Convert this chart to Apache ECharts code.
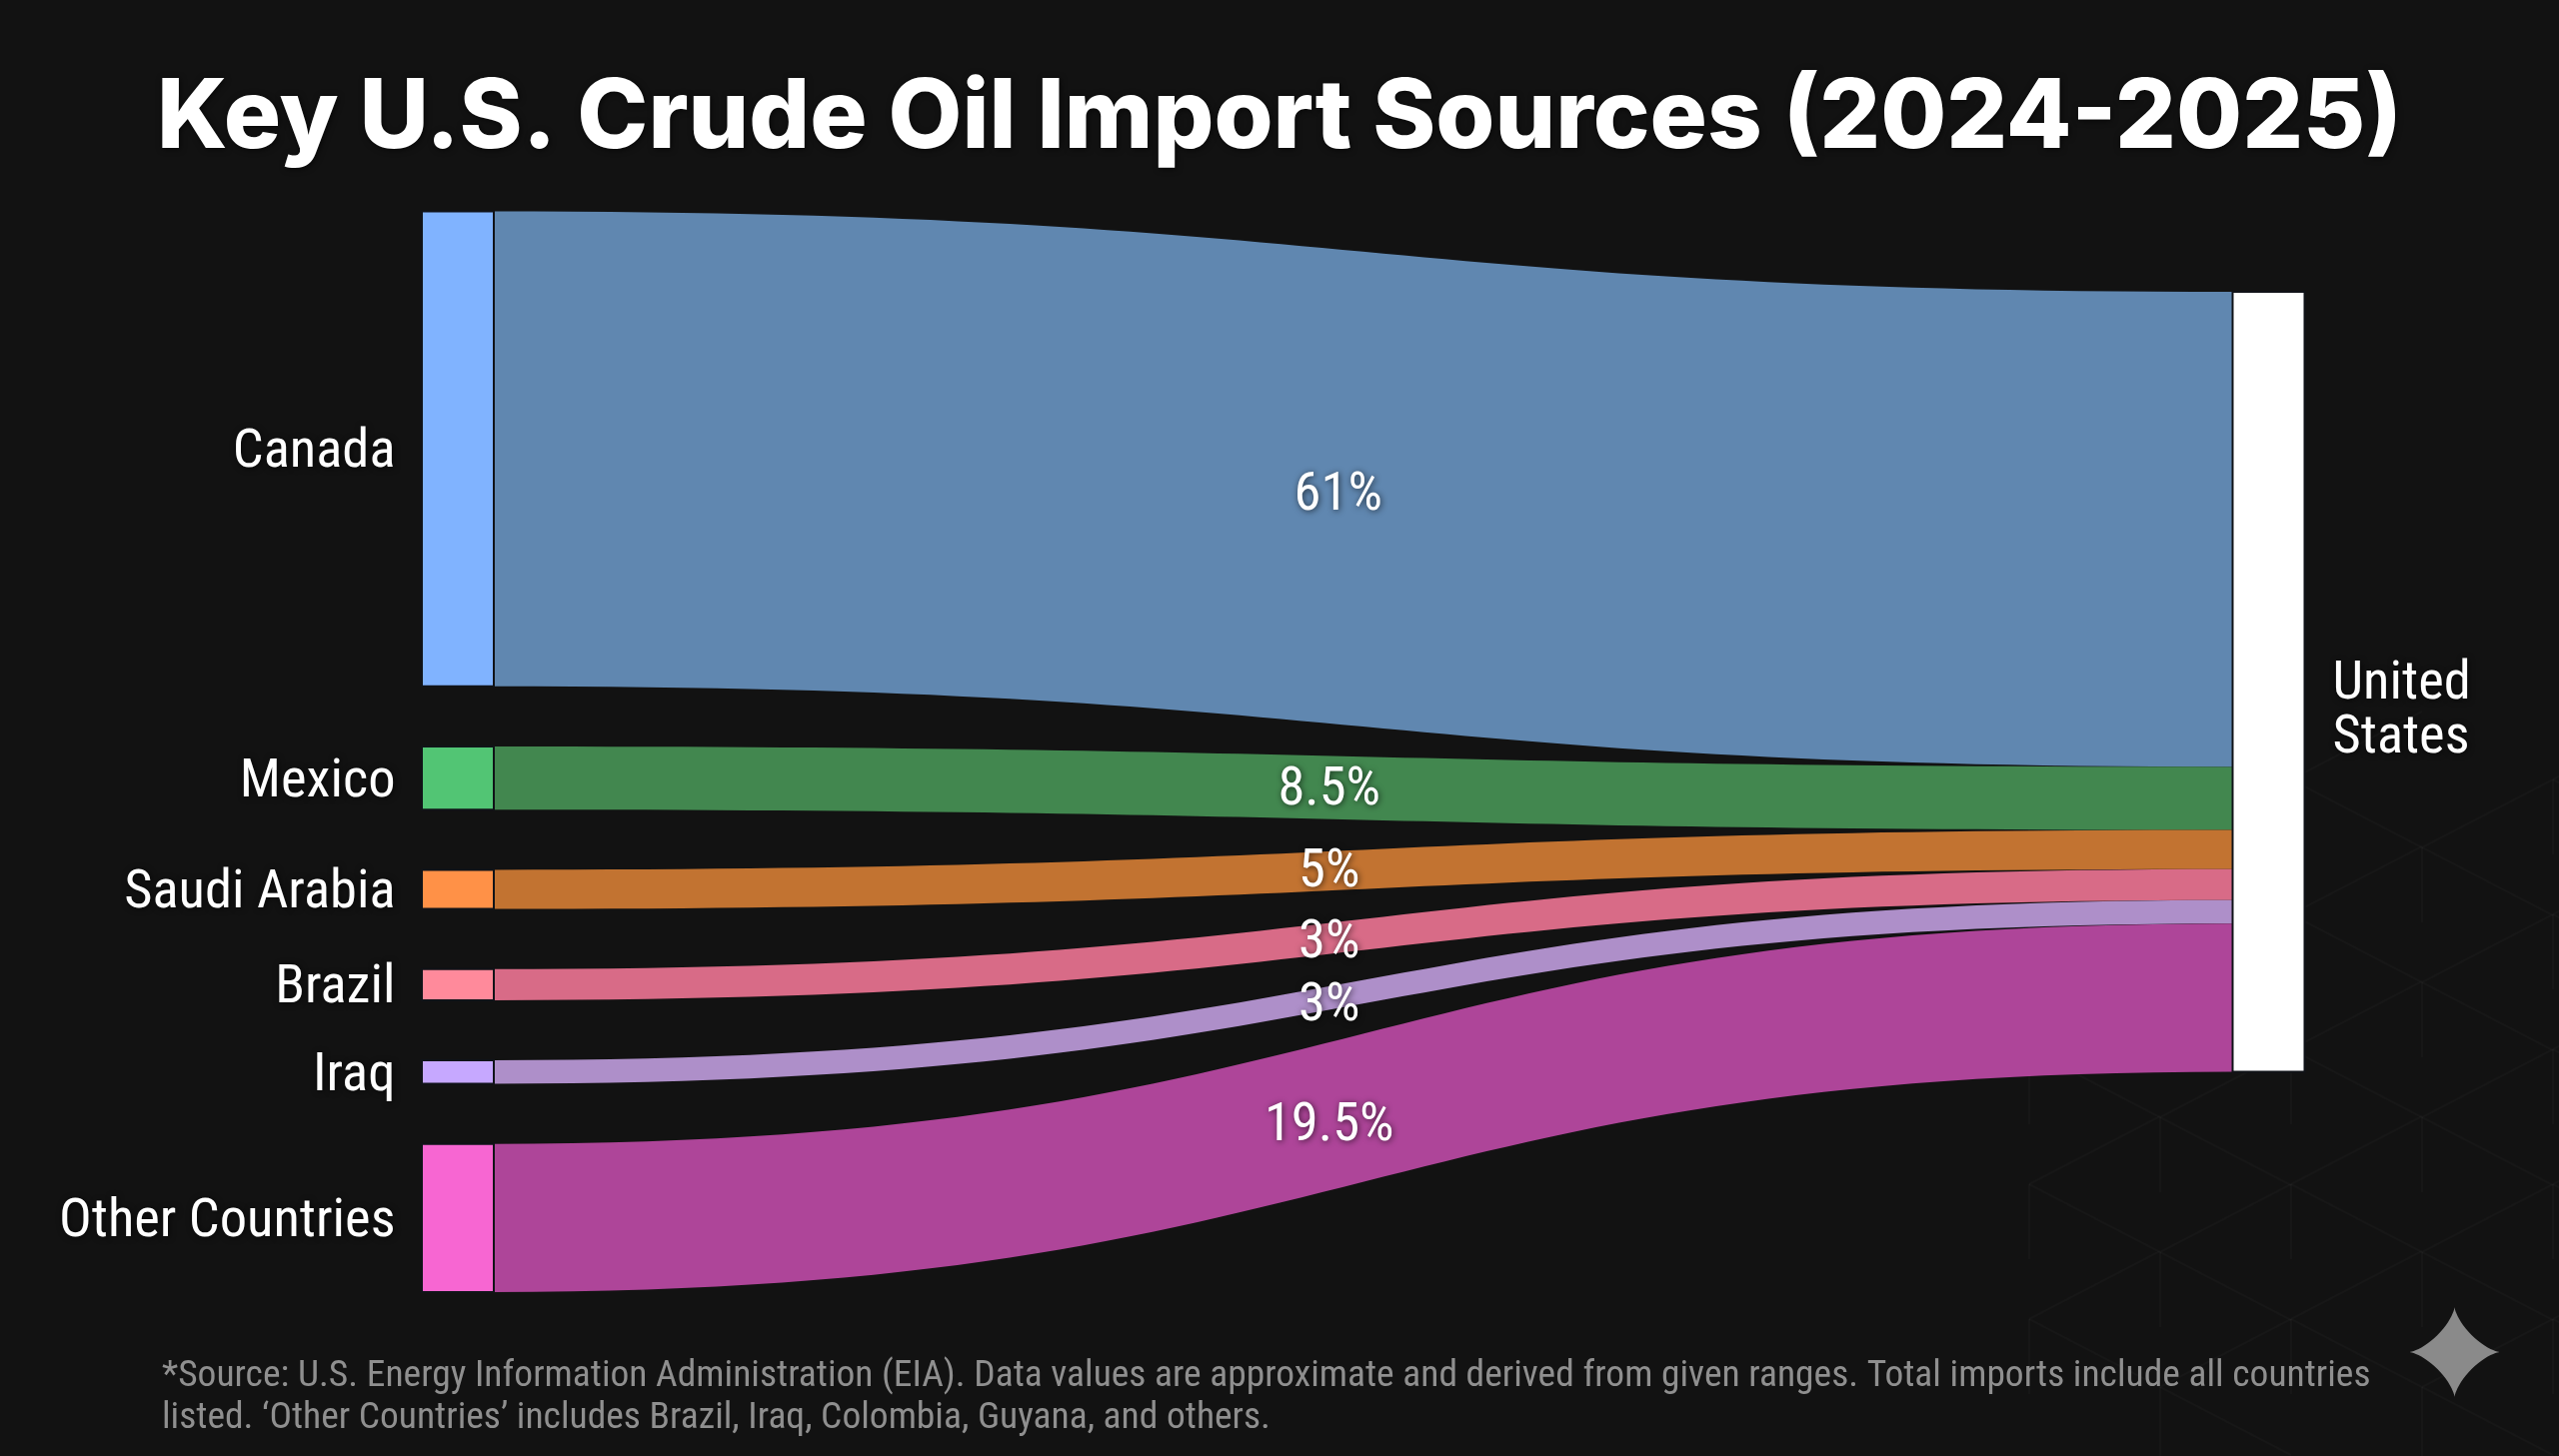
<!DOCTYPE html>
<html><head><meta charset="utf-8">
<style>html,body{margin:0;padding:0;background:#121212}#c{width:2560px;height:1457px}</style>
<script src="https://cdn.jsdelivr.net/npm/echarts@6/dist/echarts.min.js"></script>
</head><body><div id="c"></div>
<script>
const titleText = 'Key U.S. Crude Oil Import Sources (2024-2025)';
const footnoteText = '*Source: U.S. Energy Information Administration (EIA). Data values are approximate and derived from given ranges. Total imports include all countries\nlisted. ‘Other Countries’ includes Brazil, Iraq, Colombia, Guyana, and others.';
const countries = ['Canada','Mexico','Saudi Arabia','Brazil','Iraq','Other Countries'];
const destination = 'United States';
const flowValues = [60.9, 8.1, 5, 4, 3, 19];
const flowLabels = ['61%','8.5%','5%','3%','3%','19.5%'];
const nodeColors = ['#80B3FF','#52C574','#FF9147','#FF8A9B','#C6A8FF','#F766D2'];
const linkColors = ['#6087B0','#42874F','#C27331','#D86B87','#AE8FC9','#AE4599'];
const labelFont = '"Roboto Condensed","Liberation Sans Narrow","DejaVu Sans Condensed",sans-serif';
const FS = 54.5;
const labelNudges = [[-25,7],[-34,3],[-34,3],[-34,9],[-34,15],[-34,19]];

const chart = echarts.init(document.getElementById('c'), null, {renderer:'canvas'});
const shadow = {textShadowColor:'rgba(0,0,0,0.65)', textShadowBlur:6, textShadowOffsetX:1, textShadowOffsetY:1};

// faint isometric lattice behind the chart
const lattice = [];
const latColor = 'rgba(255,255,255,0.022)';
for (let c = 0; c < 6; c++) {
  const x = 1900 + 131 * c + 130;
  const yStart = 780 + (c % 2) * 68;
  for (let r = 0; r < 5; r++) {
    const y = yStart + r * 135;
    lattice.push({type:'line', silent:true, shape:{x1:x,y1:y,x2:x,y2:y+75}, style:{stroke:latColor,lineWidth:2}});
    lattice.push({type:'line', silent:true, shape:{x1:x,y1:y,x2:x+131,y2:y-68}, style:{stroke:latColor,lineWidth:2}});
    lattice.push({type:'line', silent:true, shape:{x1:x,y1:y,x2:x+131,y2:y+68}, style:{stroke:latColor,lineWidth:2}});
  }
}
// four-pointed sparkle watermark
const sparkle = [];
for (let k = 0; k < 96; k++) {
  const t = k / 96 * Math.PI * 2, p = 2.8, c = Math.cos(t), s = Math.sin(t);
  sparkle.push([2455.5 + 45 * Math.sign(c) * Math.pow(Math.abs(c), p), 1353 + 45 * Math.sign(s) * Math.pow(Math.abs(s), p)]);
}

chart.setOption({
  backgroundColor:'#121212',
  animation:false,
  tooltip:{show:false},
  title:[{
    text:titleText, left:'center', top:66,
    textStyle:{color:'#fff', fontFamily:'Inter', fontWeight:800, fontSize:95.6, ...shadow}
  }],
  graphic:[
    ...lattice,
    {type:'text', silent:true, x:162, y:1357, style:{text:footnoteText, fill:'#8f8f8f', font:'37.5px '+labelFont, lineHeight:42}},
    {type:'polygon', silent:true, shape:{points:sparkle}, style:{fill:'#8a8a8a'}}
  ],
  series:[{
    type:'sankey',
    left:422, right:254.5, top:211.5, bottom:164,
    nodeWidth:72, nodeGap:60.2,
    nodeAlign:'justify',
    layoutIterations:0,
    draggable:false,
    emphasis:{disabled:true},
    label:{show:true, position:'left', distance:25.5, color:'#fff', fontFamily:labelFont, fontSize:FS, offset:[0,4.5], ...shadow},
    edgeLabel:{show:true, color:'#fff', fontFamily:labelFont, fontSize:FS, ...shadow},
    data:[
      ...countries.map((n,i)=>({name:n, itemStyle:{color:nodeColors[i], borderColor:'#101318', borderWidth:2}})),
      {name:destination, localY:0.0745,
       itemStyle:{color:'#fff', borderColor:'#101318', borderWidth:2},
       label:{position:'right', distance:27, align:'left', lineHeight:54, offset:[0,30.5], formatter:'United\nStates'}}
    ],
    links:countries.map((n,i)=>({
      source:n, target:destination, value:flowValues[i],
      lineStyle:{color:linkColors[i], opacity:1, curveness:0.5},
      edgeLabel:{show:true, formatter:flowLabels[i], offset:labelNudges[i]}
    }))
  }]
});
</script></body></html>
